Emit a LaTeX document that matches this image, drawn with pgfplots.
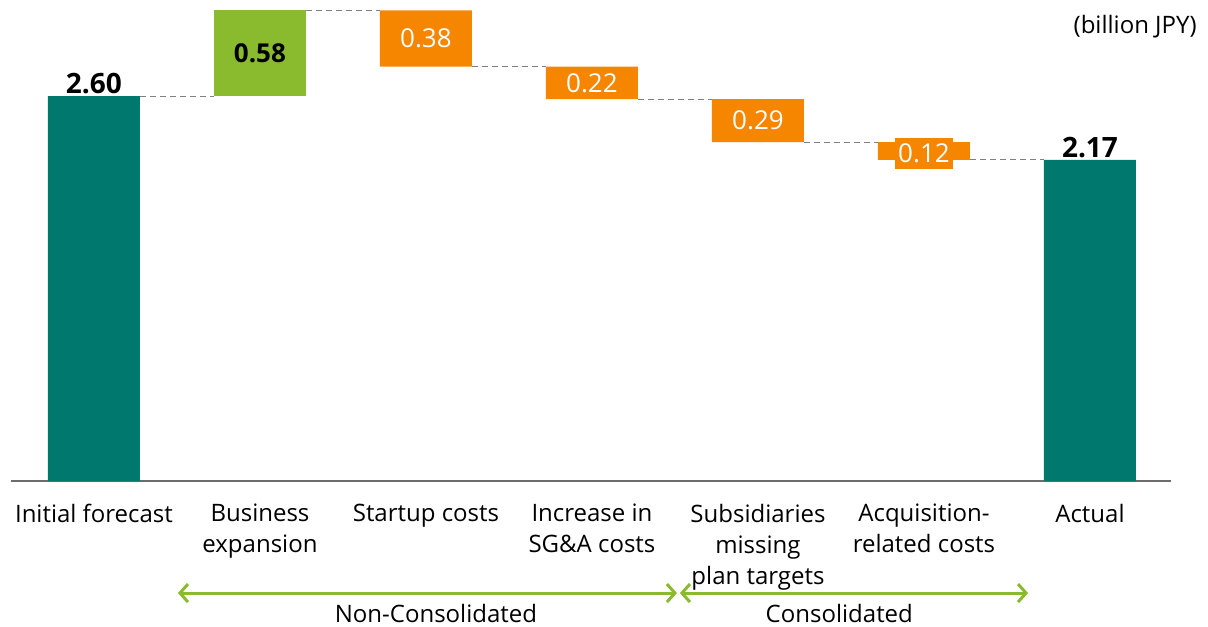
\documentclass[border=0pt]{standalone}
\usepackage{fontspec}
\setmainfont{Open Sans}
\usepackage{pgfplots}
\pgfplotsset{compat=1.18}
\usetikzlibrary{arrows.meta}
\definecolor{teal}{RGB}{0,120,110}
\definecolor{lgreen}{RGB}{138,187,46}
\definecolor{orng}{RGB}{246,133,0}

\begin{document}
\begin{tikzpicture}[font=\fontsize{12}{15}\selectfont]
\begin{axis}[
  x=83pt, y=74pt,
  xmin=-0.5, xmax=6.49,
  ymin=0, ymax=3.25,
  ybar stacked,
  bar width=46pt,
  axis x line=bottom,
  hide y axis,
  axis line style={gray!85!black, line width=0.8pt, -},
  xtick={0,...,6},
  xticklabels={Initial forecast, Business\\expansion, Startup costs,
    Increase in\\SG\&A costs, Subsidiaries\\missing\\plan targets,
    Acquisition-\\related costs, Actual},
  xticklabel style={align=center, anchor=north, yshift=-8pt,
    font=\fontsize{12}{15.5}\selectfont},
  major tick length=0pt,
  enlargelimits=false,
  clip=false,
]
% invisible base
\addplot[draw=none, fill=none] coordinates {(0,0)(1,2.60)(2,2.80)(3,2.58)(4,2.29)(5,2.17)(6,0)};
% totals
\addplot[draw=none, fill=teal] coordinates {(0,2.60)(1,0)(2,0)(3,0)(4,0)(5,0)(6,2.17)};
% increase
\addplot[draw=none, fill=lgreen] coordinates {(0,0)(1,0.58)(2,0)(3,0)(4,0)(5,0)(6,0)};
% decreases
\addplot[draw=none, fill=orng] coordinates {(0,0)(1,0)(2,0.38)(3,0.22)(4,0.29)(5,0.12)(6,0)};

% connectors
\draw[gray, densely dashed, line width=0.4pt] (axis cs:0.277,2.60) -- (axis cs:0.723,2.60);
\draw[gray, densely dashed, line width=0.4pt] (axis cs:1.277,3.18) -- (axis cs:1.723,3.18);
\draw[gray, densely dashed, line width=0.4pt] (axis cs:2.277,2.80) -- (axis cs:2.723,2.80);
\draw[gray, densely dashed, line width=0.4pt] (axis cs:3.277,2.58) -- (axis cs:3.723,2.58);
\draw[gray, densely dashed, line width=0.4pt] (axis cs:4.277,2.29) -- (axis cs:4.723,2.29);
\draw[gray, densely dashed, line width=0.4pt] (axis cs:5.277,2.17) -- (axis cs:5.723,2.17);

% anchor points for labels, drawn after the axis so they sit on top of the bars
\coordinate (l0) at (axis cs:0,2.60);
\coordinate (l6) at (axis cs:6,2.17);
\coordinate (l1) at (axis cs:1,2.89);
\coordinate (l2) at (axis cs:2,2.99);
\coordinate (l3) at (axis cs:3,2.69);
\coordinate (l4) at (axis cs:4,2.435);
\coordinate (l5) at (axis cs:5,2.215);

\node[anchor=east, font=\fontsize{12}{14}\selectfont] at (axis cs:6.685,3.07) {(billion JPY)};

% group arrows
\draw[lgreen, line width=1.5pt, {Straight Barb[length=4pt,width=9pt]}-{Straight Barb[length=4pt,width=9pt]}]
  (axis cs:0.506,-0.757) -- (axis cs:3.512,-0.757);
\draw[lgreen, line width=1.5pt, {Straight Barb[length=4pt,width=9pt]}-{Straight Barb[length=4pt,width=9pt]}]
  (axis cs:3.53,-0.757) -- (axis cs:5.627,-0.757);
\node[font=\fontsize{12}{14}\selectfont] at (axis cs:2.06,-0.892) {Non-Consolidated};
\node[font=\fontsize{12}{14}\selectfont] at (axis cs:4.49,-0.892) {Consolidated};

\coordinate (bl) at (axis cs:-0.566,-0.98);
\coordinate (tr) at (axis cs:6.711,3.25);
\end{axis}
\node[anchor=south, inner sep=1pt, font=\fontsize{14}{16}\selectfont\bfseries] at (l0) {2.60};
\node[anchor=south, inner sep=1pt, font=\fontsize{14}{16}\selectfont\bfseries] at (l6) {2.17};
\node[font=\fontsize{13}{16}\selectfont\bfseries] at (l1) {0.58};
\node[white, font=\fontsize{13}{16}\selectfont] at (l2) {0.38};
\node[white, font=\fontsize{13}{16}\selectfont] at (l3) {0.22};
\node[white, font=\fontsize{13}{16}\selectfont] at (l4) {0.29};
\node[white, fill=orng, inner xsep=1.5pt, inner ysep=3pt, font=\fontsize{13}{16}\selectfont] at (l5) {0.12};
\pgfresetboundingbox
\path[use as bounding box] (bl) rectangle (tr);
\end{tikzpicture}
\end{document}
